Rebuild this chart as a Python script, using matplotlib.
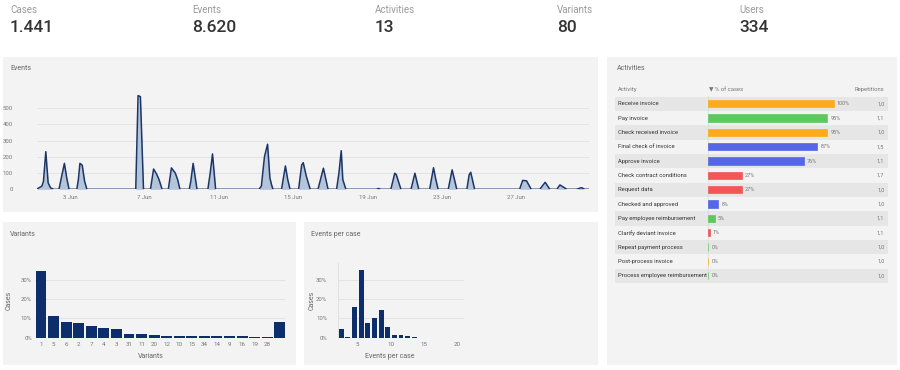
import matplotlib.pyplot as plt
import matplotlib.dates as mdates
from matplotlib.patches import Rectangle
from matplotlib.ticker import FuncFormatter
import pandas as pd

plt.rcParams['font.family'] = ['Roboto', 'DejaVu Sans']

W, H = 900, 370

# kpi header
kpi_labels = ['Cases', 'Events', 'Activities', 'Variants', 'Users']
kpi_values = ['1.441', '8.620', '13', '80', '334']

# events over time
event_times = [
    '06-01 05:00', '06-01 12:00', '06-01 14:00', '06-01 17:00', '06-01 20:00', '06-01 23:00',
    '06-02 03:00', '06-02 10:00', '06-02 13:00', '06-02 17:00', '06-02 20:00', '06-02 23:00',
    '06-03 09:00', '06-03 11:00', '06-03 13:00', '06-03 16:00', '06-03 19:00', '06-03 22:00',
    '06-06 13:00', '06-06 16:00', '06-06 19:00', '06-06 23:00',
    '06-07 08:00', '06-07 12:00', '06-07 16:00', '06-07 19:00', '06-07 23:00',
    '06-08 07:00', '06-08 11:00', '06-08 16:00', '06-08 19:00', '06-08 22:00',
    '06-09 10:00', '06-09 12:00', '06-09 15:00', '06-09 20:00',
    '06-10 10:00', '06-10 13:00', '06-10 16:00', '06-10 20:00',
    '06-13 04:00', '06-13 07:00', '06-13 11:00', '06-13 15:00', '06-13 18:00', '06-13 20:00', '06-13 22:00',
    '06-14 09:00', '06-14 14:00', '06-14 17:00', '06-14 20:00',
    '06-15 07:00', '06-15 11:00', '06-15 13:00', '06-15 17:00', '06-15 22:00',
    '06-16 08:00', '06-16 15:00', '06-16 21:00',
    '06-17 08:00', '06-17 11:00', '06-17 14:00', '06-17 16:00', '06-17 20:00',
    '06-19 11:00', '06-19 14:00', '06-19 17:00',
    '06-20 06:00', '06-20 11:00', '06-20 13:00', '06-20 19:00',
    '06-21 08:00', '06-21 13:00', '06-21 18:00',
    '06-22 08:00', '06-22 13:00', '06-22 16:00', '06-22 19:00',
    '06-23 08:00', '06-23 13:00', '06-23 19:00',
    '06-24 08:00', '06-24 11:00', '06-24 13:00', '06-24 18:00',
    '06-27 04:00', '06-27 08:00', '06-27 13:00', '06-27 19:00',
    '06-28 06:00', '06-28 13:00', '06-28 19:00',
    '06-29 04:00', '06-29 08:00', '06-29 12:00', '06-29 17:00',
    '06-30 05:00', '06-30 12:00', '06-30 16:00', '06-30 21:00',
]
event_counts = [
    0, 20, 50, 232, 40, 10,
    0, 0, 70, 160, 70, 0,
    0, 60, 160, 148, 50, 0,
    0, 578, 571, 0,
    0, 125, 93, 60, 0,
    0, 132, 100, 60, 0,
    0, 50, 160, 0,
    0, 100, 218, 0,
    0, 20, 201, 278, 70, 30, 0,
    0, 144, 60, 0,
    0, 150, 164, 80, 0,
    0, 130, 0,
    0, 100, 238, 60, 0,
    0, 5, 0,
    0, 99, 90, 0,
    0, 99, 0,
    0, 133, 60, 0,
    0, 120, 0,
    0, 90, 105, 0,
    0, 55, 52, 0,
    0, 43, 0,
    0, 27, 15, 0,
    0, 10, 0, 0,
]

# activities table
activities = ['Receive invoice', 'Pay invoice', 'Check received invoice', 'Final check of invoice',
              'Approve invoice', 'Check contract conditions', 'Request data', 'Checked and approved',
              'Pay employee reimbursement', 'Clarify deviant invoice', 'Repeat payment process',
              'Post-process invoice', 'Process employee reimbursement']
activity_pct = [100, 95, 95, 87, 76, 27, 27, 8, 5, 1, 0, 0, 0]
activity_colors = ['#fbab1c', '#5cc95c', '#fbab1c', '#5567e8', '#5567e8', '#f25656', '#f25656',
                   '#5567e8', '#5cc95c', '#f25656', '#5cc95c', '#fbab1c', '#5cc95c']
repetitions = ['1,0', '1,1', '1,0', '1,5', '1,1', '1,7', '1,0', '1,0', '1,1', '1,1', '1,0', '1,0', '1,0']

# variants
variant_labels = ['1', '5', '6', '2', '7', '4', '3', '31', '11', '20', '12', '10', '15', '34',
                  '14', '9', '16', '19', '28', '']
variant_share = [34.8, 11.3, 8.2, 7.5, 6.3, 5.2, 4.3, 1.9, 1.9, 1.4, 1.1, 0.9, 0.8, 0.8,
                 0.8, 0.8, 0.7, 0.6, 0.6, 8.4]

# events per case
epc_bins = [2, 3, 4, 5, 6, 7, 8, 9, 10, 11, 12, 13]
epc_share = [4.5, 0.3, 16.1, 35.2, 7.6, 10.1, 14.2, 5.7, 1.6, 1.6, 0.9, 0.3]

PANEL = '#f3f3f3'
NAVY = '#0c2f6b'
GRID = '#e3e3e3'
TICK = '#777777'


def box(x0, y0, x1, y1):
    # pixel box (top-left origin) -> figure fraction rect
    return [x0 / W, 1 - y1 / H, (x1 - x0) / W, (y1 - y0) / H]


fig = plt.figure(figsize=(9, 3.7), dpi=100)
fig.patch.set_facecolor('white')

for x0, y0, x1, y1 in [(3, 57, 598, 212), (607, 57, 897, 365), (3, 222, 296, 365), (304, 222, 598, 365)]:
    r = box(x0, y0, x1, y1)
    fig.add_artist(Rectangle((r[0], r[1]), r[2], r[3], transform=fig.transFigure,
                             facecolor=PANEL, edgecolor='none', zorder=0))

# kpis
for lab, val, x in zip(kpi_labels, kpi_values, [10, 192, 375, 557, 739]):
    fig.text(x / W, 1 - 10 / H, lab, fontsize=7, color='#9a9a9a', va='center', ha='left')
    fig.text(x / W, 1 - 28 / H, val, fontsize=12.5, color='#333333', va='center', ha='left',
             fontweight='medium')

# panel titles
for lab, x, y in [('Events', 10, 69), ('Activities', 617, 69), ('Variants', 10, 235),
                  ('Events per case', 311, 235)]:
    fig.text(x / W, 1 - y / H, lab, fontsize=5, color='#666666', va='center', ha='left')

# events line
times = pd.to_datetime(['2021-' + t for t in event_times])
ax = fig.add_axes(box(36.5, 92, 588.6, 189.3))
ax.set_facecolor('none')
ax.fill_between(times, event_counts, color='#aebfd7', alpha=0.9, lw=0)
ax.plot(times, event_counts, color='#1b3567', lw=1.1)
ax.set_xlim(times[0], times[-1])
ax.set_ylim(0, 600)
ax.set_yticks([0, 100, 200, 300, 400, 500])
ax.grid(axis='y', color=GRID, lw=0.7)
ax.set_axisbelow(True)
ax.xaxis.set_major_locator(mdates.DayLocator(bymonthday=[3, 7, 11, 15, 19, 23, 27]))
ax.xaxis.set_major_formatter(mdates.DateFormatter('%-d %b'))
ax.tick_params(axis='y', length=0, labelsize=4.3, labelcolor=TICK, pad=17)
ax.tick_params(axis='x', length=0, labelsize=4.3, labelcolor=TICK, pad=4)
for s in ax.spines.values():
    s.set_visible(False)

# activities table
axa = fig.add_axes(box(615, 82.2, 888, 282.9))
axa.set_facecolor('none')
axa.set_xlim(-74.4, 143.3)
axa.set_ylim(12.5, -1.5)
axa.axis('off')
for i in range(len(activities)):
    if i % 2 == 0:
        axa.axhspan(i - 0.5, i + 0.5, color='#e6e6e6', lw=0, zorder=0)
axa.barh(range(len(activities)), activity_pct, height=0.52, color=activity_colors,
         edgecolor=activity_colors, linewidth=0.5, zorder=2)
axa.axvline(0, ymin=0.04, ymax=0.93, color='#d5dccd', lw=0.5, zorder=1)
for i, (name, p, rep) in enumerate(zip(activities, activity_pct, repetitions)):
    axa.text(-71.8, i, name, fontsize=4.2, color='#333333', va='center', ha='left')
    axa.text(p + 2.4, i, f'{p}%', fontsize=4, color='#777777', va='center', ha='left')
    axa.text(140.4, i, rep, fontsize=4, color='#777777', va='center', ha='right')
axa.text(-71.8, -1, 'Activity', fontsize=4.2, color='#777777', va='center', ha='left')
axa.text(0.5, -1, '▼ % of cases', fontsize=4.2, color='#777777', va='center', ha='left')
axa.text(140.4, -1, 'Repetitions', fontsize=4.2, color='#777777', va='center', ha='right')

pct = FuncFormatter(lambda v, p: f'{v:.0f}%')

# variants
axv = fig.add_axes(box(34.7, 263.3, 286.1, 337.7))
axv.set_facecolor('none')
axv.bar(range(len(variant_share)), variant_share, width=0.87, color=NAVY, zorder=2)
axv.set_xlim(-0.5, len(variant_share) - 0.5)
axv.set_ylim(0, 38.7)
axv.set_yticks([0, 10, 20, 30])
axv.yaxis.set_major_formatter(pct)
axv.set_xticks(range(len(variant_labels)))
axv.set_xticklabels(variant_labels)
axv.grid(axis='y', color=GRID, lw=0.7)
axv.set_axisbelow(True)
axv.tick_params(axis='y', length=0, labelsize=4.3, labelcolor=TICK, pad=2)
axv.tick_params(axis='x', length=0, labelsize=4.5, labelcolor=TICK, pad=3)
axv.set_ylabel('Cases', fontsize=5, color='#666666')
axv.yaxis.set_label_coords(-0.0875, 0.5)
axv.set_xlabel('Variants', fontsize=5, color='#666666')
axv.xaxis.set_label_coords(0.46, -0.21)
for s in axv.spines.values():
    s.set_visible(False)

# events per case
axe = fig.add_axes(box(337.7, 263.3, 464.3, 337.7))
axe.set_facecolor('none')
axe.bar([b + 0.5 for b in epc_bins], epc_share, width=0.75, color=NAVY, zorder=2)
axe.set_xlim(2, 21)
axe.set_ylim(0, 38.7)
axe.set_yticks([0, 10, 20, 30])
axe.yaxis.set_major_formatter(pct)
axe.set_xticks([5, 10, 15, 20])
axe.grid(axis='y', color=GRID, lw=0.7)
axe.set_axisbelow(True)
axe.tick_params(axis='y', length=0, labelsize=4.3, labelcolor=TICK, pad=7.5)
axe.tick_params(axis='x', length=0, labelsize=4.5, labelcolor=TICK, pad=3)
axe.set_ylabel('Cases', fontsize=5, color='#666666')
axe.yaxis.set_label_coords(-0.175, 0.5)
axe.set_xlabel('Events per case', fontsize=5, color='#666666')
axe.xaxis.set_label_coords(0.41, -0.21)
for k, s in axe.spines.items():
    s.set_visible(k == 'left')
axe.spines['left'].set_color('#dddddd')
axe.spines['left'].set_linewidth(0.6)

fig.savefig('out.png', dpi=100, facecolor='white')
